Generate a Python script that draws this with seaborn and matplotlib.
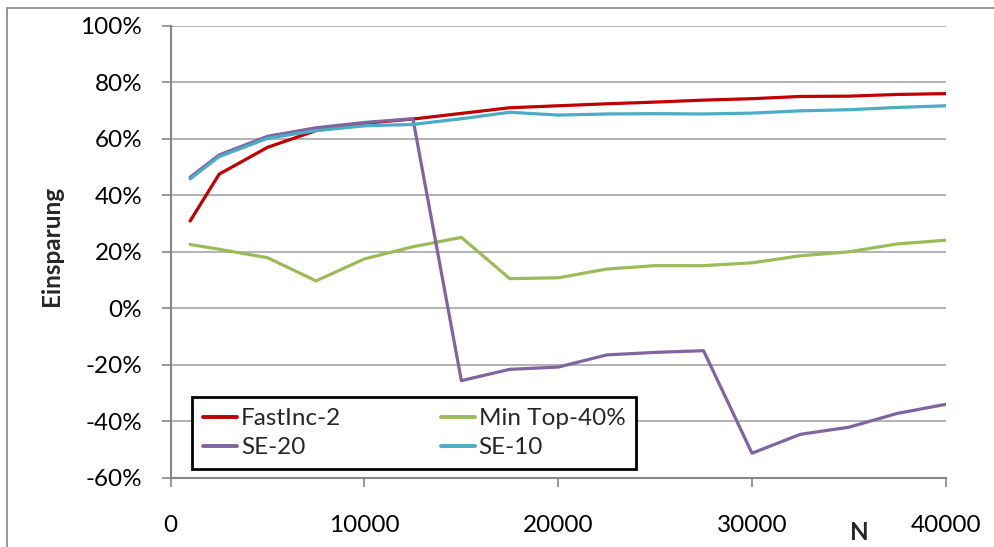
import matplotlib
matplotlib.use("Agg")
import matplotlib.pyplot as plt
from matplotlib.patches import Rectangle
import pandas as pd
import seaborn as sns

# Problem size N
n_values = [1000, 2500, 5000, 7500, 10000, 12500, 15000, 17500, 20000,
            22500, 25000, 27500, 30000, 32500, 35000, 37500, 40000]

# Savings in percent per method
fastinc_2 = [30.9, 47.5, 57.0, 62.9, 65.5, 67.0, 69.0, 71.0, 71.7,
             72.4, 73.0, 73.7, 74.2, 75.0, 75.1, 75.7, 76.0]
min_top_40 = [22.6, 20.9, 17.9, 9.7, 17.5, 21.8, 25.1, 10.5, 10.8,
              13.9, 15.1, 15.1, 16.1, 18.6, 20.0, 22.8, 24.1]
se_20 = [46.4, 54.3, 60.9, 63.9, 65.8, 67.1, -25.6, -21.6, -20.8,
         -16.5, -15.6, -15.0, -51.3, -44.6, -42.1, -37.2, -34.0]
se_10 = [45.8, 53.7, 60.2, 62.9, 64.6, 65.1, 67.1, 69.4, 68.4,
         68.8, 68.9, 68.8, 69.1, 69.9, 70.3, 71.1, 71.7]

series_names = ["FastInc-2", "Min Top-40%", "SE-20", "SE-10"]
series_colors = ["#C00000", "#9BBB59", "#8064A2", "#4BACC6"]

y_ticks = [-60, -40, -20, 0, 20, 40, 60, 80, 100]
y_tick_labels = ["-60%", "-40%", "-20%", "0%", "20%", "40%", "60%", "80%", "100%"]
x_ticks = [0, 10000, 20000, 30000, 40000]
x_tick_labels = ["0", "10000", "20000", "30000", "40000"]

frames = []
for name, vals in zip(series_names, [fastinc_2, min_top_40, se_20, se_10]):
    frames.append(pd.DataFrame({"N": n_values, "Einsparung": vals, "Serie": name}))
df = pd.concat(frames, ignore_index=True)

sns.set_style("white")
plt.rcParams["font.family"] = ["Lato", "DejaVu Sans"]

fs = 17.5

fig = plt.figure(figsize=(9.95, 5.47), dpi=100)
ax = fig.add_axes([0.1716, 0.1265, 0.7789, 0.8263])

sns.lineplot(data=df, x="N", y="Einsparung", hue="Serie", hue_order=series_names,
             palette=series_colors, linewidth=2.3, errorbar=None, sort=False,
             legend=False, ax=ax, solid_joinstyle="round", solid_capstyle="round")

ax.set_xlim(0, 40000)
ax.set_ylim(-60, 100)
ax.set_xticks(x_ticks)
ax.set_xticklabels(x_tick_labels)
ax.set_yticks(y_ticks)
ax.set_yticklabels(y_tick_labels)

grey = "#868686"
ax.yaxis.grid(True, color="#A6A6A6", linewidth=1.2)
ax.xaxis.grid(False)
ax.set_axisbelow(True)
for side in ["top", "right"]:
    ax.spines[side].set_visible(False)
for side in ["left", "bottom"]:
    ax.spines[side].set_color(grey)
    ax.spines[side].set_linewidth(1.5)

ax.tick_params(axis="both", bottom=True, left=True, direction="out", length=6.5,
               width=1.2, color=grey, labelsize=fs, labelcolor="black")
ax.tick_params(axis="x", pad=20)
ax.tick_params(axis="y", pad=14)

ax.set_ylabel("Einsparung", fontsize=fs, fontweight="bold", va="center")
ax.yaxis.set_label_coords(-0.1535, 0.513)
ax.set_xlabel("N", fontsize=fs, fontweight="bold", va="center")
ax.xaxis.set_label_coords(0.889, -0.12)

lines = ax.get_lines()
order = [0, 2, 1, 3]
leg = ax.legend([lines[i] for i in order], [series_names[i] for i in order],
                ncol=2, loc="lower left", bbox_to_anchor=(0.0279, 0.0195),
                borderaxespad=0, fontsize=fs, frameon=True, fancybox=False,
                framealpha=1, edgecolor="black", handlelength=1.4,
                handletextpad=0.15, columnspacing=4.1, labelspacing=0.32,
                borderpad=0.45)
leg.get_frame().set_linewidth(2.0)
for h in leg.get_lines():
    h.set_linewidth(2.8)

# chart area border
fig.patches.append(Rectangle((7 / 995, -0.1), 1.2, 1.1 - 7.5 / 547,
                             transform=fig.transFigure, fill=False,
                             edgecolor=grey, linewidth=1.2))

fig.savefig("out.png", dpi=100)
